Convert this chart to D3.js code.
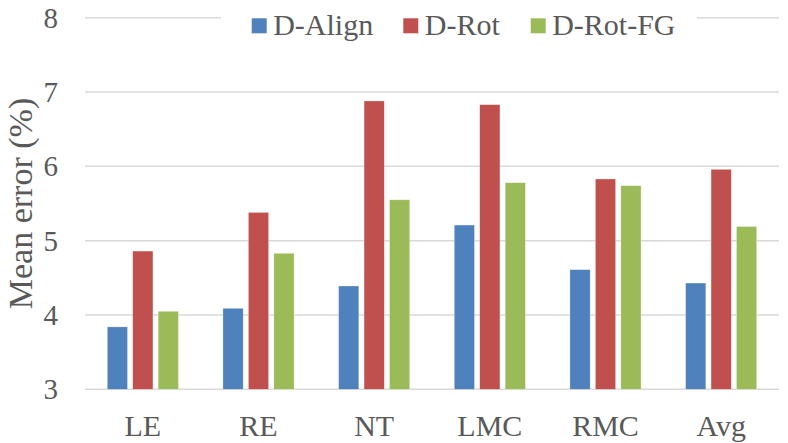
<!DOCTYPE html>
<html>
<head>
<meta charset="utf-8">
<script src="https://cdn.jsdelivr.net/npm/d3@7"></script>
<style>
  body { margin: 0; background: #fff; }
</style>
</head>
<body>
<div class="chart"></div>
<script>
// chart data
const categories = ["LE", "RE", "NT", "LMC", "RMC", "Avg"];
const seriesNames = ["D-Align", "D-Rot", "D-Rot-FG"];
const dAlign = [3.84, 4.09, 4.39, 5.21, 4.61, 4.43];
const dRot = [4.86, 5.38, 6.88, 6.83, 5.83, 5.96];
const dRotFG = [4.05, 4.83, 5.55, 5.78, 5.74, 5.19];
const yTicks = [3, 4, 5, 6, 7, 8];
const colors = ["#4F81BD", "#C0504D", "#9BBB59"];

const fontFamily = "'Liberation Serif', 'Times New Roman', serif";

const width = 788, height = 443;
const margin = {top: 17.7, right: 9, bottom: 53.7, left: 85};

const svg = d3.select(".chart")
    .append("svg")
    .attr("width", width)
    .attr("height", height)
    .style("font-family", fontFamily)
    .style("display", "block");

const x = d3.scaleBand()
    .domain(categories)
    .range([margin.left, width - margin.right])
    .paddingInner(0)
    .paddingOuter(0);

const y = d3.scaleLinear()
    .domain([3, 8])
    .range([height - margin.bottom, margin.top]);

const bw = x.bandwidth() * 0.175;
const step = x.bandwidth() * 0.22;

// gridlines
svg.append("g")
    .selectAll("line")
    .data(yTicks)
    .join("line")
    .attr("x1", margin.left)
    .attr("x2", width - margin.right)
    .attr("y1", d => y(d))
    .attr("y2", d => y(d))
    .attr("stroke", "#D9D9D9")
    .attr("stroke-width", 1.5);

// y tick labels
svg.append("g")
    .selectAll("text")
    .data(yTicks)
    .join("text")
    .attr("x", 58)
    .attr("y", d => y(d))
    .attr("dy", "0.35em")
    .attr("text-anchor", "end")
    .attr("fill", "#595959")
    .attr("font-size", "29px")
    .text(d => d);

// bars
const series = [dAlign, dRot, dRotFG];
series.forEach((vals, si) => {
    svg.append("g")
        .selectAll("rect")
        .data(vals)
        .join("rect")
        .attr("x", (d, i) => x(categories[i]) + x.bandwidth() / 2 + (si - 1) * step - bw / 2)
        .attr("y", d => y(d))
        .attr("width", bw)
        .attr("height", d => y(3) - y(d))
        .attr("fill", colors[si])
        .attr("stroke", "#fff")
        .attr("stroke-opacity", 0.5)
        .attr("stroke-width", 0.6);
});

// x labels
svg.append("g")
    .selectAll("text")
    .data(categories)
    .join("text")
    .attr("x", d => x(d) + x.bandwidth() / 2)
    .attr("y", 435.5)
    .attr("text-anchor", "middle")
    .attr("fill", "#595959")
    .attr("font-size", "30px")
    .text(d => d);

// y axis title
svg.append("text")
    .attr("transform", "translate(31.5,203.5) rotate(-90)")
    .attr("text-anchor", "middle")
    .attr("fill", "#595959")
    .attr("font-size", "34px")
    .text("Mean error (%)");

// legend, sitting on top of the top gridline
const legend = svg.append("g");
legend.append("rect")
    .attr("x", 221)
    .attr("y", 4)
    .attr("width", 476)
    .attr("height", 38)
    .attr("fill", "#fff");

const legendX = [251.7, 403.3, 530.7];
seriesNames.forEach((name, i) => {
    legend.append("rect")
        .attr("x", legendX[i])
        .attr("y", 18.3)
        .attr("width", 15)
        .attr("height", 15)
        .attr("fill", colors[i]);
    legend.append("text")
        .attr("x", legendX[i] + 21.5)
        .attr("y", 35)
        .attr("fill", "#595959")
        .attr("font-size", "30px")
        .text(name);
});
</script>
</body>
</html>
